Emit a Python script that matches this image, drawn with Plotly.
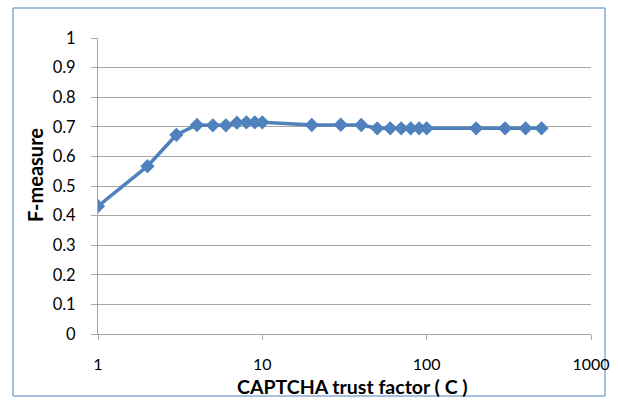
import plotly.graph_objects as go

x_vals = [1, 2, 3, 4, 5, 6, 7, 8, 9, 10, 20, 30, 40, 50, 60, 70, 80, 90, 100, 200, 300, 400, 500]
f_measure = [0.432, 0.567, 0.673, 0.706, 0.705, 0.705, 0.714, 0.715, 0.715, 0.715,
             0.706, 0.707, 0.706, 0.695, 0.695, 0.695, 0.695, 0.695, 0.695, 0.695, 0.695, 0.695, 0.695]
y_ticks = [0, 0.1, 0.2, 0.3, 0.4, 0.5, 0.6, 0.7, 0.8, 0.9, 1]
y_tick_labels = ["0", "0.1", "0.2", "0.3", "0.4", "0.5", "0.6", "0.7", "0.8", "0.9", "1"]
x_ticks = [1, 10, 100, 1000]
x_tick_labels = ["1", "10", "100", "1000"]
x_title = "CAPTCHA trust factor ( C )"
y_title = "F-measure"

W, H = 618, 401
ml, mr, mt, mb = 98, 27, 38, 67
pw, ph = W - ml - mr, H - mt - mb


def px(xp):
    return (xp - ml) / pw


def py(yp):
    return (H - mb - yp) / ph


fig = go.Figure()
fig.add_trace(go.Scatter(
    x=x_vals, y=f_measure, mode="lines+markers",
    line=dict(color="#4F81BD", width=3.5),
    marker=dict(symbol="diamond", size=11, color="#4F81BD"),
    showlegend=False,
))

font = "Lato, 'Open Sans', Arial, sans-serif"
fig.update_layout(
    width=W, height=H,
    margin=dict(l=ml, r=mr, t=mt, b=mb),
    paper_bgcolor="white", plot_bgcolor="white",
    font=dict(family=font, color="black", size=14),
    xaxis=dict(
        type="log", range=[0, 3], automargin=False,
        tickvals=x_ticks, ticktext=x_tick_labels,
        showgrid=False, zeroline=False,
        showline=True, linecolor="#A6A6A6", linewidth=1,
        ticks="outside", ticklen=5, tickcolor="#A6A6A6",
        ticklabelstandoff=11,
        tickfont=dict(size=16, family=font, color="black"),
    ),
    yaxis=dict(
        range=[0, 1], automargin=False,
        tickvals=y_ticks, ticktext=y_tick_labels,
        showgrid=True, gridcolor="#A6A6A6", gridwidth=1,
        zeroline=False,
        showline=True, linecolor="#A6A6A6", linewidth=1,
        ticks="outside", ticklen=6, tickcolor="#A6A6A6",
        ticklabelstandoff=12,
        tickfont=dict(size=16.5, family=font, color="black"),
    ),
)

fig.add_annotation(text="<b>" + x_title + "</b>", xref="paper", yref="paper",
                   x=px(352), y=py(387), xanchor="center", yanchor="middle",
                   showarrow=False, font=dict(size=19.5, family=font, color="black"))
fig.add_annotation(text="<b>" + y_title + "</b>", xref="paper", yref="paper",
                   x=px(35), y=py(175), xanchor="center", yanchor="middle", textangle=-90,
                   showarrow=False, font=dict(size=20, family=font, color="black"))

# outer frame
fig.add_shape(type="rect", xref="paper", yref="paper",
              x0=px(13), x1=px(605),
              y0=py(396), y1=py(8),
              line=dict(color="#4F81BD", width=1), layer="below")

fig.write_html("out.html", config={"displayModeBar": False},
               post_script="document.body.style.margin='0';document.body.style.padding='0';")
